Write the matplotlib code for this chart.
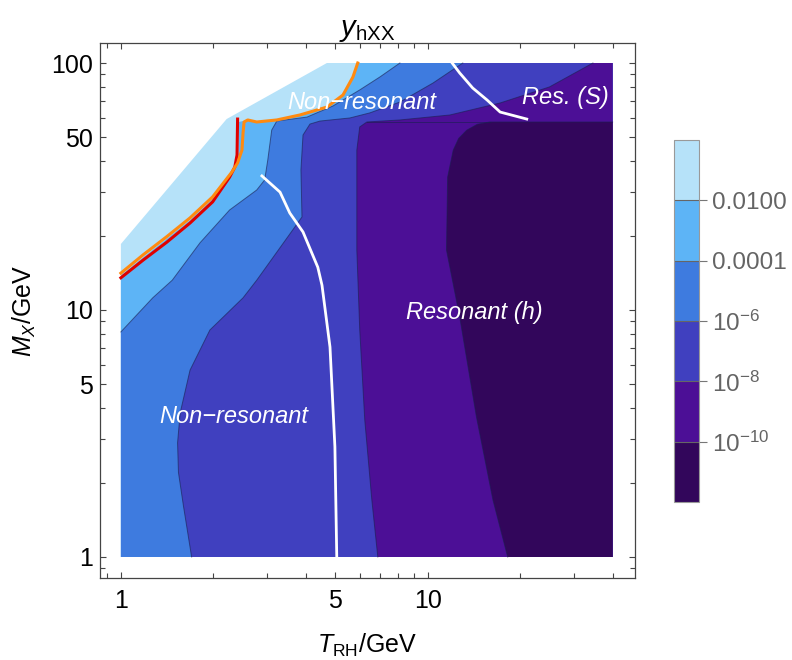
import matplotlib.pyplot as plt
from matplotlib.colors import ListedColormap, BoundaryNorm
import matplotlib as mpl

plt.rcParams['font.family'] = ['Liberation Sans', 'DejaVu Sans']
plt.rcParams['mathtext.fontset'] = 'custom'
plt.rcParams['mathtext.rm'] = 'Liberation Sans'
plt.rcParams['mathtext.it'] = 'Liberation Sans:italic'
plt.rcParams['mathtext.bf'] = 'Liberation Sans:bold'

# region where the scan exists (T_RH, M_X)
dom_T = [1, 1, 2.21, 4.69, 40, 40]
dom_M = [1, 18.5, 59.3, 100, 100, 1]

# contour boundaries (levels 1e-2 ... 1e-10)
c2_T = [1.0, 1.18, 1.41, 1.68, 1.99, 2.28, 2.38, 2.42, 2.42, 2.59, 2.77, 3.22, 3.83, 4.69, 5.29, 5.70, 5.91]
c2_M = [13.8, 16.3, 19.4, 23.1, 28.1, 35.3, 38.5, 43.5, 57.7, 58.8, 57.7, 58.8, 61.6, 66.3, 74.2, 87.7, 100]
c4_T = [1.0, 1.27, 1.47, 1.81, 2.26, 2.77, 2.94, 3.01, 3.10, 3.22, 4.04, 4.91, 6.00, 6.98, 8.11]
c4_M = [8.15, 11.2, 13.2, 18.7, 25.4, 30.6, 33.6, 40.5, 53.5, 58.2, 60.4, 67.0, 77.8, 87.8, 100]
c6_T = [1.70, 1.60, 1.54, 1.53, 1.56, 1.68, 1.95, 2.50, 2.77, 3.63, 3.89, 3.86, 3.92, 4.13, 4.45, 5.57, 6.47, 8.11, 10.4, 13.0]
c6_M = [1, 1.60, 2.20, 2.90, 3.83, 5.71, 8.30, 11.2, 13.2, 21.1, 23.8, 36.9, 51.1, 56.6, 58.2, 59.9, 62.8, 69.5, 83.0, 100]
c8_T = [6.87, 6.57, 6.23, 6.00, 5.87, 5.87, 6.00, 6.33, 8.11, 11.8, 17.2, 24.9, 34.5]
c8_M = [1, 1.70, 3.59, 8.30, 17.5, 44.4, 55.1, 57.7, 58.8, 61.6, 68.9, 80.0, 100]
c10_T = [18.2, 16.3, 14.4, 12.7, 11.5, 11.6, 12.1, 12.6, 13.4, 14.5, 15.9, 40]
c10_M = [1, 1.70, 3.69, 9.37, 17.5, 34.5, 44.4, 49.5, 53.5, 56.5, 57.7, 57.7]
seam_T = [6.33, 15.9]
seam_M = [57.7, 57.7]

# overlaid curves
red_T = [1.0, 1.18, 1.41, 1.68, 1.99, 2.26, 2.35, 2.39, 2.40]
red_M = [13.5, 15.9, 18.8, 22.5, 27.4, 34.5, 37.9, 42.4, 59.3]
orange_T = [1.0, 1.18, 1.41, 1.68, 1.99, 2.30, 2.40, 2.48, 2.50, 2.52, 2.59, 2.77, 3.22, 3.83, 4.69, 5.29, 5.70, 5.91]
orange_M = [14.1, 16.7, 19.8, 23.6, 28.7, 36.2, 39.4, 44.4, 52.1, 57.7, 58.8, 57.7, 58.8, 61.6, 66.3, 74.2, 87.7, 100]
white1_T = [2.88, 3.30, 3.55, 3.92, 4.38, 4.52, 4.80, 4.98, 5.05]
white1_M = [34.9, 30.0, 24.7, 20.7, 14.9, 12.6, 7.08, 2.79, 1]
white2_T = [12.0, 12.7, 14.0, 15.6, 17.2, 21.0]
white2_M = [100, 91.1, 79.2, 70.8, 63.3, 59.3]

colors = ['#B6E2F9', '#5DB4F6', '#3E7BDF', '#4040BF', '#4C0F96', '#32065B']
levels = [-12, -10, -8, -6, -4, -2, 0]
cb_ticks = [-10, -8, -6, -4, -2]
cb_labels = ['$10^{-10}$', '$10^{-8}$', '$10^{-6}$', '0.0001', '0.0100']

x_major = [1, 5, 10]
x_minor = [0.9, 2, 3, 4, 6, 7, 8, 9, 20, 30, 40]
y_major = [1, 5, 10, 50, 100]
y_minor = [0.9, 2, 3, 4, 6, 7, 8, 9, 20, 30, 40, 60, 70, 80, 90]

fig = plt.figure(figsize=(7.92, 6.6), dpi=100)
ax = fig.add_axes([0.12626, 0.12424, 0.67551, 0.81061])
ax.set_xscale('log')
ax.set_yscale('log')

# filled bands, from the highest level down
ax.fill(dom_T, dom_M, color=colors[0], lw=0)
ax.fill(c2_T + [40, 40, 1], c2_M + [100, 1, 1], color=colors[1], lw=0)
ax.fill(c4_T + [40, 40, 1], c4_M + [100, 1, 1], color=colors[2], lw=0)
ax.fill(c6_T + [40, 40], c6_M + [100, 1], color=colors[3], lw=0)
ax.fill(c8_T + [40, 40], c8_M + [100, 1], color=colors[4], lw=0)
ax.fill(c10_T + [40], c10_M + [1], color=colors[5], lw=0)

for cT, cM in [(c4_T, c4_M), (c6_T, c6_M), (c8_T, c8_M), (c10_T, c10_M), (seam_T, seam_M)]:
    ax.plot(cT, cM, color='#1a2050', lw=0.7, alpha=0.6)

ax.plot(red_T, red_M, color='#E00000', lw=2.2)
ax.plot(orange_T, orange_M, color='#FF8A10', lw=2.2)
ax.plot(white1_T, white1_M, color='white', lw=2.0)
ax.plot(white2_T, white2_M, color='white', lw=2.0)

lab = dict(color='white', fontsize=17, fontstyle='italic', ha='center', va='center')
ax.text(6.10, 68.9, 'Non\u2212resonant', **lab)
ax.text(2.34, 3.69, 'Non\u2212resonant', **lab)
ax.text(14.2, 9.81, 'Resonant (h)', **lab)
ax.text(28.1, 72.2, 'Res. (S)', **lab)

ax.set_xlim(0.855, 47.3)
ax.set_ylim(0.822, 120.5)
ax.set_xticks(x_major, [str(v) for v in x_major])
ax.set_xticks(x_minor, minor=True)
ax.set_yticks(y_major, [str(v) for v in y_major])
ax.set_yticks(y_minor, minor=True)
ax.xaxis.set_minor_formatter(mpl.ticker.NullFormatter())
ax.yaxis.set_minor_formatter(mpl.ticker.NullFormatter())
ax.tick_params(which='both', direction='in', top=True, right=True, color='#444444', width=0.8, labelsize=18)
ax.tick_params(which='major', length=4.5)
ax.tick_params(which='minor', length=3.5)
ax.tick_params(axis='x', pad=8)
ax.tick_params(axis='y', pad=5)
for s in ax.spines.values():
    s.set_color('#444444')
    s.set_linewidth(0.9)

ax.set_xlabel('$T_{\\mathrm{RH}}$/GeV', fontsize=18)
ax.set_ylabel('$M_X$/GeV', fontsize=18)
ax.xaxis.set_label_coords(0.5, -0.1)
ax.yaxis.set_label_coords(-0.115, 0.5)
ax.text(0.5, 1.013, '$y_{\\mathrm{hXX}}$', transform=ax.transAxes, fontsize=21, ha='center', va='baseline')

# colorbar
cax = fig.add_axes([0.85101, 0.23939, 0.03157, 0.54848])
cmap = ListedColormap(colors[::-1])
norm = BoundaryNorm(levels, cmap.N)
cb = mpl.colorbar.ColorbarBase(cax, cmap=cmap, norm=norm, boundaries=levels, ticks=cb_ticks, drawedges=True)
cb.set_ticklabels(cb_labels)
cb.outline.set_edgecolor('#999999')
cb.outline.set_linewidth(0.8)
cb.dividers.set_color('#666666')
cb.dividers.set_linewidth(0.8)
cax.tick_params(color='#777777', length=5.5, width=0.8, labelsize=17.5, labelcolor='#646464', pad=3.5)
cax.minorticks_off()

fig.savefig('out.png', dpi=100)
